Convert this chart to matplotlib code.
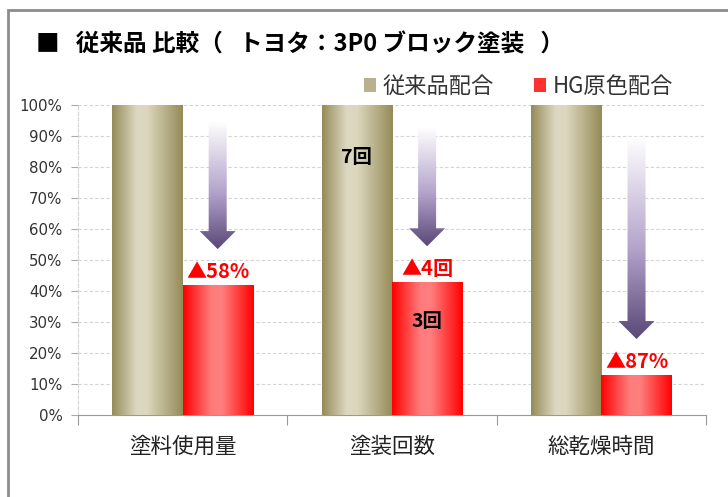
import matplotlib.pyplot as plt
import numpy as np
from matplotlib.colors import LinearSegmentedColormap
from matplotlib.patches import Polygon, Rectangle, Patch

plt.rcParams['font.family'] = ['Noto Sans CJK JP', 'DejaVu Sans']

categories = ['塗料使用量', '塗装回数', '総乾燥時間']
conventional = [100, 100, 100]
hg_color = [42, 42.9, 13]
reduction_labels = ['▲58%', '▲4回', '▲87%']
arrow_tops = [94.5, 92.6, 89.7]
count_labels = ['7回', '3回']

olive_cmap = LinearSegmentedColormap.from_list(
    'olive', [(0, '#958b5a'), (0.35, '#ddd8c1'), (0.5, '#dcd6bd'), (1, '#958b58')])
red_cmap = LinearSegmentedColormap.from_list(
    'red', [(0, '#ff0000'), (0.4, '#ff7c7c'), (0.55, '#ff7e7e'), (1, '#ff0000')])
arrow_cmap = LinearSegmentedColormap.from_list(
    'arr', [(0, '#ffffff'), (0.55, '#b4a4cc'), (1, '#5a4878')])


def gradient_fill(ax, patch, cmap, vertical=False):
    bb = patch.get_path().get_extents(patch.get_patch_transform())
    if vertical:
        grad = np.linspace(0, 1, 256).reshape(-1, 1)
    else:
        grad = np.linspace(0, 1, 256).reshape(1, -1)
    im = ax.imshow(grad, cmap=cmap, aspect='auto', origin='upper',
                   extent=(bb.x0, bb.x1, bb.y0, bb.y1), zorder=patch.get_zorder())
    im.set_clip_path(patch)


fig = plt.figure(figsize=(7.28, 4.97), dpi=100)
ax = fig.add_axes([0.107, 0.165, 0.863, 0.624])

x = np.arange(len(categories))
w = 0.335
b1 = ax.bar(x - w / 2, conventional, w, color='none', zorder=3)
b2 = ax.bar(x + w / 2, hg_color, w, color='none', zorder=3)
for p in b1:
    gradient_fill(ax, p, olive_cmap)
for p in b2:
    gradient_fill(ax, p, red_cmap)

# arrows
for i, (top, val) in enumerate(zip(arrow_tops, hg_color)):
    cx = x[i] + w / 2
    tip = val + 11.5
    head = tip + 5.8
    sw, hw = 0.043, 0.086
    pts = [(cx - sw, top), (cx + sw, top), (cx + sw, head), (cx + hw, head),
           (cx, tip), (cx - hw, head), (cx - sw, head)]
    arr = Polygon(pts, closed=True, facecolor='none', edgecolor='none', zorder=4)
    ax.add_patch(arr)
    gradient_fill(ax, arr, arrow_cmap, vertical=True)

for i, (lab, val) in enumerate(zip(reduction_labels, hg_color)):
    ax.text(x[i] + w / 2, val + 0.8, lab, color='#ff0000', fontsize=14.5,
            fontweight='bold', ha='center', va='bottom', zorder=5)

ax.text(x[1] - w / 2, 83, count_labels[0], fontsize=14, fontweight='bold',
        ha='center', va='center', zorder=5)
ax.text(x[1] + w / 2, 30, count_labels[1], fontsize=14, fontweight='bold',
        ha='center', va='center', zorder=5)

ax.set_xlim(-0.5, 2.5)
ax.set_ylim(0, 100)
ax.set_yticks(np.arange(0, 101, 10))
ax.set_yticklabels([f'{v}%' for v in range(0, 101, 10)], fontsize=10.8,
                   color='#333333', family='DejaVu Sans')
ax.tick_params(axis='y', length=5, color='#aaaaaa', pad=6)
ax.set_xticks([-0.5, 0.5, 1.5, 2.5])
ax.set_xticklabels([])
ax.set_xticks(x, minor=True)
ax.set_xticklabels(categories, minor=True, fontsize=15.5, color='#222222')
ax.tick_params(axis='x', which='major', length=7, color='#999999')
ax.tick_params(axis='x', which='minor', length=0, pad=15)

ax.grid(axis='y', linestyle=(0, (3, 2)), color='#d4d4d4', linewidth=0.8, zorder=0)
ax.set_axisbelow(True)
for s in ['top', 'right']:
    ax.spines[s].set_visible(False)
ax.spines['left'].set_color('#d4d4d4')
ax.spines['left'].set_linestyle((0, (3, 2)))
ax.spines['bottom'].set_color('#999999')

handles = [Patch(facecolor='#b9b18e', edgecolor='none'),
           Patch(facecolor='#ff3030', edgecolor='none')]
fig.legend(handles, ['従来品配合', 'HG原色配合'], ncol=2, frameon=False,
           loc='center', bbox_to_anchor=(0.712, 0.826), fontsize=16,
           handlelength=0.55, handleheight=0.6, handletextpad=0.3,
           columnspacing=1.8, labelcolor='#333333')

fig.text(0.05, 0.91, '■   従来品 比較（   トヨタ：3P0 ブロック塗装   ）',
         fontsize=17, fontweight='bold', va='center', ha='left')

fig.patches.append(Rectangle((8 / 728, -0.1), 1.1, 1.1 - 10 / 497 + 0.0,
                             transform=fig.transFigure, fill=False,
                             edgecolor='#8c8c8c', linewidth=2))

fig.savefig('out.png', dpi=100)
